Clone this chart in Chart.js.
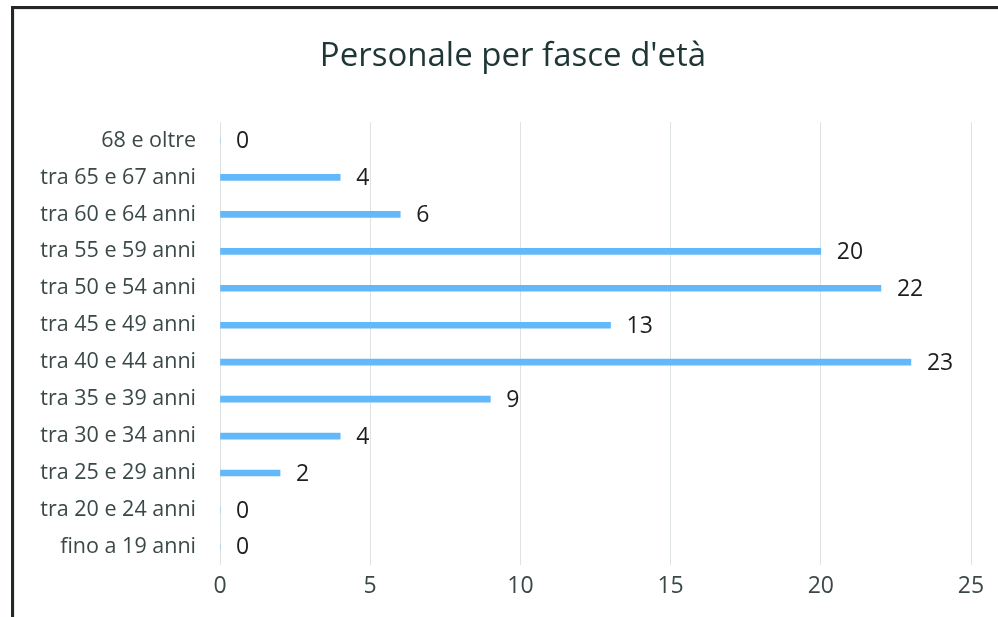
<!DOCTYPE html>
<html>
<head>
<meta charset="utf-8">
<script src="https://cdn.jsdelivr.net/npm/chart.js@4/dist/chart.umd.min.js"></script>
<style>
    html, body { margin: 0; padding: 0; background: #fff; overflow: hidden; }
    #cornice {
        position: absolute;
        left: 11px;
        top: 6px;
        width: 987px;
        height: 611px;
        border-left: 3px solid #262626;
        border-top: 3px solid #262626;
        box-shadow: inset 1px 1px 0 #e4e9e9;
    }
    #contenitore { position: absolute; left: 0; top: 0; width: 984px; height: 608px; }
</style>
</head>
<body>
<div id="cornice">
    <div id="contenitore"><canvas id="graficoEta"></canvas></div>
</div>
<script>
// fasce d'età (dal basso verso l'alto come nel grafico originale)
const fasce = [
    'fino a 19 anni',
    'tra 20 e 24 anni',
    'tra 25 e 29 anni',
    'tra 30 e 34 anni',
    'tra 35 e 39 anni',
    'tra 40 e 44 anni',
    'tra 45 e 49 anni',
    'tra 50 e 54 anni',
    'tra 55 e 59 anni',
    'tra 60 e 64 anni',
    'tra 65 e 67 anni',
    '68 e oltre'
];
const personale = [0, 0, 2, 4, 9, 23, 13, 22, 20, 6, 4, 0];
const tickAsseX = [0, 5, 10, 15, 20, 25];
const titolo = "Personale per fasce d'età";

const fontTesto = '"Open Sans", "Noto Sans", sans-serif';

// titolo centrato su tutta la cornice (non solo sull'area dei dati)
const titoloCentrato = {
    id: 'titoloCentrato',
    afterDraw(chart) {
        let ctx = chart.ctx;
        ctx.save();
        ctx.font = '33px ' + fontTesto;
        ctx.fillStyle = '#1f3636';
        ctx.textAlign = 'center';
        ctx.textBaseline = 'middle';
        ctx.fillText(titolo, 499, 48);
        ctx.restore();
    }
};

// etichette con il valore alla fine di ogni barra
const etichetteValori = {
    id: 'etichetteValori',
    afterDatasetsDraw(chart) {
        let ctx = chart.ctx;
        let meta = chart.getDatasetMeta(0);
        ctx.save();
        ctx.font = '23px ' + fontTesto;
        ctx.fillStyle = '#1e1e1e';
        ctx.textAlign = 'left';
        ctx.textBaseline = 'middle';
        meta.data.forEach((barra, i) => {
            ctx.fillText(String(personale[i]), barra.x + 16, barra.y + 1);
        });
        ctx.restore();
    }
};

let data = {
    labels: fasce,
    datasets: [
        {
            label: 'Personale',
            data: personale,
            backgroundColor: '#63b8fa',
            borderWidth: 0,
            barThickness: 6
        }
    ]
};

let config = {
    type: 'bar',
    data: data,
    plugins: [etichetteValori, titoloCentrato],
    options: {
        indexAxis: 'y',
        responsive: true,
        maintainAspectRatio: false,
        animation: false,
        layout: {
            padding: { left: 0, right: 27, top: 113, bottom: 10 }
        },
        plugins: {
            title: { display: false },
            legend: { display: false },
            tooltip: { enabled: false }
        },
        scales: {
            x: {
                min: 0,
                max: 25,
                afterBuildTicks: (scale) => {
                    scale.ticks = tickAsseX.map(v => ({ value: v }));
                },
                ticks: {
                    color: '#3b4848',
                    padding: 7,
                    font: { family: fontTesto, size: 23 }
                },
                grid: {
                    color: '#dde2e2',
                    drawTicks: false
                },
                border: { display: false }
            },
            y: {
                reverse: true,
                afterFit: (scale) => {
                    scale.width = 206;
                },
                ticks: {
                    color: '#3b4848',
                    padding: 24,
                    font: { family: fontTesto, size: 21.5 }
                },
                grid: { display: false, drawTicks: false },
                border: { display: false }
            }
        }
    }
};

let canvas = document.getElementById('graficoEta');
new Chart(canvas.getContext('2d'), config);
</script>
</body>
</html>
